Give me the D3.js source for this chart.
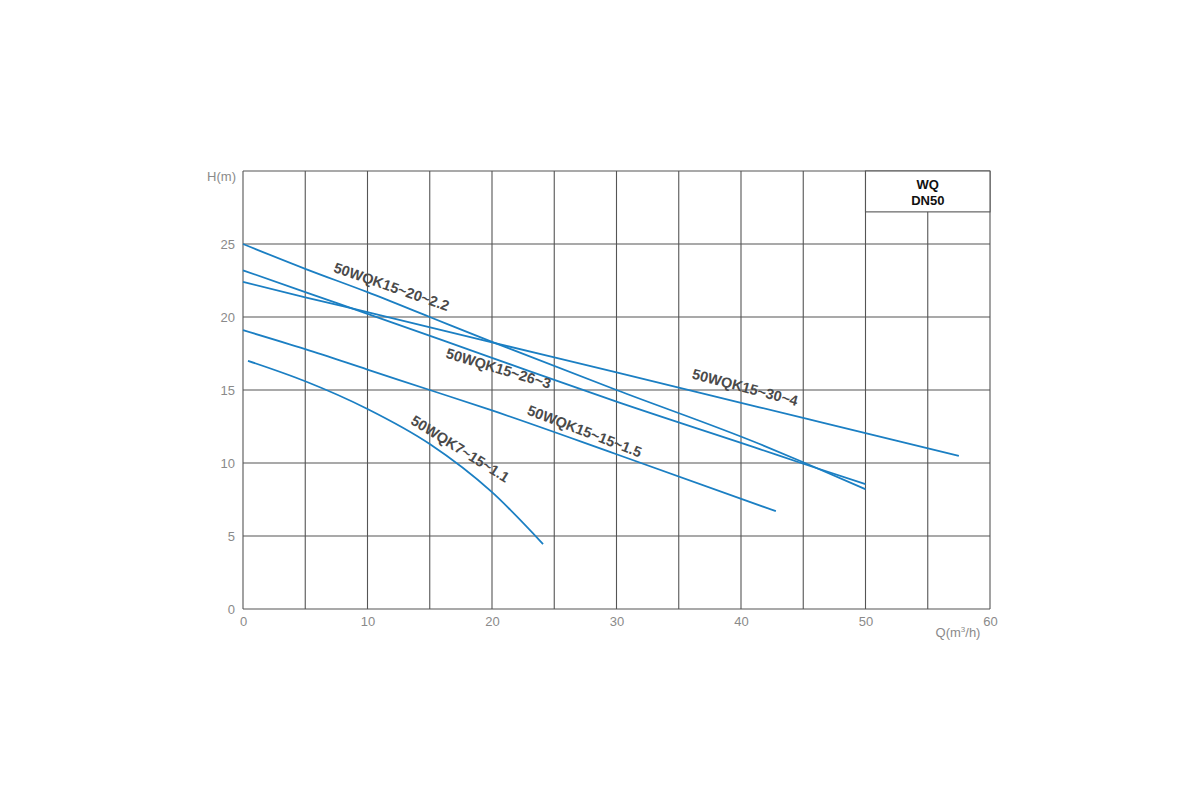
<!DOCTYPE html>
<html>
<head>
<meta charset="utf-8">
<script src="https://cdn.jsdelivr.net/npm/d3@7"></script>
<style>
  html, body { margin: 0; padding: 0; background: #fff; }
  svg { display: block; }
</style>
</head>
<body>
<svg id="chart" width="1200" height="800"></svg>
<script>
// ---- data ----
const xTicks = [0, 10, 20, 30, 40, 50, 60];
const yTicks = [0, 5, 10, 15, 20, 25];
const gridX = [0, 5, 10, 15, 20, 25, 30, 35, 40, 45, 50, 55, 60];
const gridY = [0, 5, 10, 15, 20, 25, 30];

const curve_15_20_2_2 = [[0,25],[5,23.3],[10,21.7],[15,20.0],[20,18.3],[30,15.0],[41.5,11.3],[45,10.05],[50,8.2]];
const curve_15_26_3   = [[0,23.2],[5,21.7],[10.4,20.1],[20,17.2],[30,14.2],[41.5,10.95],[45,9.95],[50,8.55]];
const curve_15_30_4   = [[0,22.4],[5,21.35],[10.4,20.25],[20,18.26],[30,16.2],[45.4,13.0],[52.8,11.46],[57.5,10.48]];
const curve_15_15_1_5 = [[0,19.1],[5,17.8],[10,16.4],[15,15.0],[20,13.6],[30,10.6],[42.8,6.7]];
const curve_7_15_1_1  = [[0.4,17.0],[5,15.6],[10,13.7],[15,11.3],[20,8.0],[24.1,4.45]];

const seriesNames = ["50WQK15~20~2.2","50WQK15~26~3","50WQK15~30~4","50WQK15~15~1.5","50WQK7~15~1.1"];
const seriesData = [curve_15_20_2_2, curve_15_26_3, curve_15_30_4, curve_15_15_1_5, curve_7_15_1_1];
// label anchor (data coords) and rotation
const labelPos = [[11.9,22.0],[20.5,16.4],[40.3,15.1],[27.4,12.1],[17.4,10.9]];
const labelRot = [19, 16.7, 14.8, 21, 32];

const legendLines = ["WQ", "DN50"];

// ---- scales ----
const svg = d3.select("#chart");
const x = d3.scaleLinear().domain([0, 60]).range([243, 990]);
const y = d3.scaleLinear().domain([0, 30]).range([609, 171]);

const gridColor = "#555";

// grid
svg.append("g").selectAll("line.gx").data(gridX).join("line")
  .attr("x1", d => x(d)).attr("x2", d => x(d))
  .attr("y1", y(0)).attr("y2", y(30))
  .attr("stroke", gridColor).attr("stroke-width", 1.1);
svg.append("g").selectAll("line.gy").data(gridY).join("line")
  .attr("x1", x(0)).attr("x2", x(60))
  .attr("y1", d => y(d)).attr("y2", d => y(d))
  .attr("stroke", gridColor).attr("stroke-width", 1.1);

// legend box (covers grid)
const boxTop = y(30), boxBottom = y(27.2);
svg.append("rect")
  .attr("x", x(50)).attr("y", boxTop)
  .attr("width", x(60) - x(50)).attr("height", boxBottom - boxTop)
  .attr("fill", "#fff").attr("stroke", gridColor).attr("stroke-width", 1.1);
svg.append("g").selectAll("text").data(legendLines).join("text")
  .attr("x", (x(50) + x(60)) / 2)
  .attr("y", (d, i) => 189 + i * 16)
  .attr("text-anchor", "middle")
  .attr("font-family", "Liberation Sans, Arial, sans-serif")
  .attr("font-weight", "bold")
  .attr("font-size", 13)
  .attr("fill", "#111")
  .text(d => d);

// axes tick labels
const tickFont = "Liberation Sans, Arial, sans-serif";
const xAxis = d3.axisBottom(x).tickValues(xTicks).tickSize(0).tickPadding(8);
const gx = svg.append("g").attr("transform", `translate(0,${y(0)})`).call(xAxis);
gx.select(".domain").remove();
gx.selectAll("text").attr("font-family", tickFont).attr("font-size", 13).attr("fill", "#8a8a8a");

const yAxis = d3.axisLeft(y).tickValues(yTicks).tickSize(0).tickPadding(8);
const gy = svg.append("g").attr("transform", `translate(${x(0)},0)`).call(yAxis);
gy.select(".domain").remove();
gy.selectAll("text").attr("font-family", tickFont).attr("font-size", 13).attr("fill", "#8a8a8a");

svg.append("text").attr("x", 236).attr("y", 181).attr("text-anchor", "end")
  .attr("font-family", tickFont).attr("font-size", 13).attr("fill", "#8a8a8a").text("H(m)");
const q = svg.append("text").attr("x", 958).attr("y", 637).attr("text-anchor", "middle")
  .attr("font-family", tickFont).attr("font-size", 13).attr("fill", "#8a8a8a");
q.append("tspan").text("Q(m");
q.append("tspan").attr("font-size", 8).attr("dy", -5).text("3");
q.append("tspan").attr("dy", 5).text("/h)");

// curves
const line = d3.line().x(d => x(d[0])).y(d => y(d[1])).curve(d3.curveMonotoneX);
svg.append("g").selectAll("path").data(seriesData).join("path")
  .attr("d", line)
  .attr("fill", "none")
  .attr("stroke", "#1b7fc3")
  .attr("stroke-width", 1.8);

// labels
svg.append("g").selectAll("text").data(seriesNames).join("text")
  .attr("transform", (d, i) => `translate(${x(labelPos[i][0])},${y(labelPos[i][1])}) rotate(${labelRot[i]})`)
  .attr("text-anchor", "middle")
  .attr("dominant-baseline", "middle")
  .attr("font-family", "Liberation Sans, Arial, sans-serif")
  .attr("font-weight", "bold")
  .attr("font-size", 14.5)
  .attr("fill", "#4a4a4a")
  .text(d => d);
</script>
</body>
</html>
